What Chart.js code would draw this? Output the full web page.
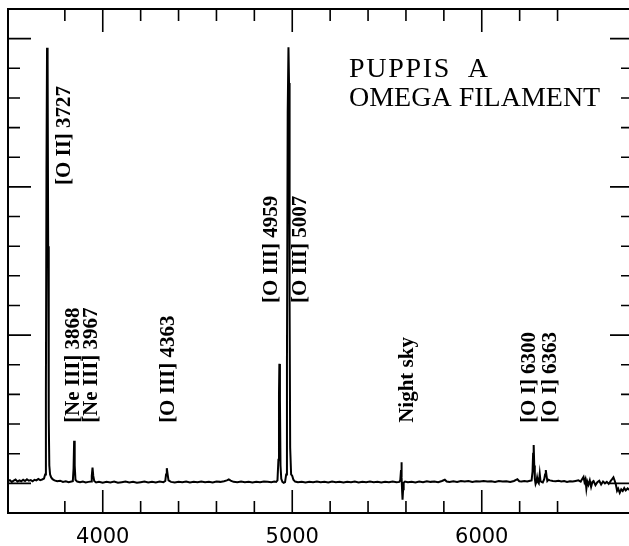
<!DOCTYPE html>
<html>
<head>
<meta charset="utf-8">
<script src="https://cdn.jsdelivr.net/npm/chart.js@4.4.1/dist/chart.umd.min.js"></script>
<style>
  html, body { margin: 0; padding: 0; overflow: hidden; background: #fff; }
  canvas { display: block; }
</style>
</head>
<body>
<canvas id="spectrum" width="629" height="546"></canvas>
<script>
// spectrum (wavelength in A, relative flux)
const wavelength = [
  3500, 3510, 3520, 3530, 3540, 3550, 3560, 3570, 3580, 3590,
  3600, 3610, 3620, 3630, 3640, 3650, 3660, 3670, 3680, 3690,
  3696, 3700, 3703, 3706, 3709, 3712, 3715, 3718, 3722, 3728,
  3735, 3745, 3760, 3775, 3790, 3805, 3820, 3835,
  3842, 3846, 3849, 3852, 3856, 3865, 3880, 3895, 3910, 3925,
  3938, 3942, 3946, 3950, 3955, 3965, 3980,
  4000, 4020, 4040, 4060, 4080, 4100, 4120, 4140, 4160, 4180,
  4200, 4220, 4240, 4260, 4280, 4300, 4320,
  4330, 4334, 4338, 4342, 4347, 4360, 4380,
  4400, 4420, 4440, 4460, 4480, 4500, 4520, 4540, 4560, 4580,
  4600, 4620, 4640, 4655, 4665, 4675, 4690, 4710, 4730, 4750,
  4770, 4790, 4810, 4830, 4850, 4870, 4890, 4905, 4915,
  4922, 4927, 4930, 4932, 4935, 4938, 4942, 4948, 4955, 4962,
  4968, 4972, 4976, 4980, 4983, 4986, 4989, 4994, 5000, 5006,
  5015, 5030, 5050, 5070, 5090, 5110, 5130, 5150, 5170, 5190,
  5210, 5230, 5250, 5270, 5290, 5310, 5330, 5350, 5370, 5390,
  5410, 5430, 5450, 5470, 5490, 5510, 5530, 5550, 5565,
  5570, 5574, 5576, 5578, 5580, 5582, 5585, 5588, 5595,
  5610, 5630, 5650, 5670, 5690, 5710, 5730, 5750, 5770, 5790,
  5805, 5815, 5830, 5850, 5870, 5890, 5910, 5930, 5950, 5970,
  5990, 6010, 6030, 6050, 6070, 6090, 6110, 6130, 6150, 6170,
  6188, 6198, 6210, 6225, 6240, 6255, 6263,
  6268, 6271, 6274, 6277, 6280, 6284, 6288, 6292, 6296, 6301,
  6306, 6310, 6315, 6322, 6330, 6334, 6338, 6342, 6346, 6352,
  6360, 6375, 6390, 6405, 6420, 6435, 6450, 6465, 6480, 6495,
  6510, 6522, 6530, 6537, 6542, 6547, 6552, 6557, 6563, 6570,
  6577, 6584, 6590, 6600, 6610, 6620, 6630, 6640, 6650, 6660,
  6670, 6680, 6688, 6695, 6702, 6708, 6714, 6720, 6728, 6736,
  6744, 6752, 6760, 6770, 6780, 6790, 6800
];
const flux = [
  0.08, 0.11, 0.05, 0.09, 0.13, 0.06, 0.10, 0.07, 0.12, 0.08,
  0.14, 0.09, 0.11, 0.07, 0.12, 0.10, 0.15, 0.11, 0.13, 0.16,
  0.30, 3.0, 10.5, 14.69, 14.3, 8.0, 2.2, 0.6, 0.30, 0.20,
  0.14, 0.10, 0.07, 0.09, 0.05, 0.07, 0.04, 0.06,
  0.07, 0.5, 1.44, 0.6, 0.12, 0.06, 0.04, 0.06, 0.03, 0.05,
  0.06, 0.25, 0.53, 0.25, 0.08, 0.03, 0.05,
  0.02, 0.05, 0.03, 0.06, 0.02, 0.04, 0.06, 0.03, 0.05, 0.02,
  0.04, 0.06, 0.03, 0.05, 0.03, 0.06, 0.04,
  0.08, 0.30, 0.51, 0.32, 0.10, 0.05, 0.03,
  0.05, 0.04, 0.06, 0.03, 0.05, 0.04, 0.06, 0.04, 0.05, 0.03,
  0.06, 0.05, 0.07, 0.10, 0.13, 0.09, 0.05, 0.04, 0.06, 0.04,
  0.05, 0.03, 0.05, 0.04, 0.06, 0.05, 0.04, 0.06, 0.05,
  0.10, 0.8, 3.0, 4.03, 2.8, 0.6, 0.15, 0.05, 0.02, 0.04,
  0.3, 4.0, 12.5, 14.71, 13.5, 6.0, 1.2, 0.30, 0.25, 0.12,
  0.06, 0.04, 0.05, 0.03, 0.05, 0.04, 0.06, 0.04, 0.05, 0.03,
  0.06, 0.04, 0.05, 0.03, 0.05, 0.04, 0.06, 0.03, 0.05, 0.04,
  0.06, 0.04, 0.05, 0.03, 0.05, 0.04, 0.06, 0.04, 0.05,
  0.10, 0.45, 0.71, 0.20, -0.30, -0.55, -0.20, 0.02, 0.06,
  0.04, 0.05, 0.03, 0.06, 0.04, 0.07, 0.05, 0.06, 0.04, 0.08,
  0.12, 0.06, 0.05, 0.07, 0.05, 0.08, 0.06, 0.08, 0.05, 0.07,
  0.06, 0.08, 0.06, 0.07, 0.05, 0.08, 0.06, 0.07, 0.05, 0.08,
  0.14, 0.07, 0.06, 0.08, 0.06, 0.09, 0.10,
  0.40, 1.00, 1.29, 0.60, 0.15, -0.02, 0.05, 0.20, 0.05, 0.00,
  0.32, 0.08, 0.05, 0.03, 0.15, 0.30, 0.45, 0.25, 0.08, 0.12,
  0.10, 0.08, 0.07, 0.09, 0.06, 0.08, 0.05, 0.07, 0.06, 0.08,
  0.10, 0.06, 0.15, 0.22, 0.05, 0.14, -0.18, 0.06, -0.05, 0.10,
  -0.12, 0.05, 0.08, -0.06, 0.04, 0.09, -0.04, 0.06, 0.00, 0.05,
  -0.02, 0.08, 0.14, 0.20, 0.08, -0.05, -0.25, -0.18, -0.32, -0.20,
  -0.26, -0.16, -0.24, -0.17, -0.22, -0.18, -0.21
];

const axisTickLabels = [4000, 5000, 6000];

const lineLabels = ['[O II] 3727', '[Ne III] 3868', '[Ne III] 3967', '[O III] 4363',
  '[O III] 4959', '[O III] 5007', 'Night sky', '[O I] 6300', '[O I] 6363'];
const labelWavelength = [3799, 3844, 3942, 4348, 4892, 5045, 5609, 6253, 6364];
const labelBase = [10.06, 2.04, 2.04, 2.04, 6.08, 6.08, 2.04, 2.04, 2.04];

const titleLines = ['PUPPIS A', 'OMEGA FILAMENT'];

// frame (right side falls off the picture), inward ticks, line ids, title
const framePlugin = {
  id: 'frame',
  afterDatasetsDraw(chart) {
    const { ctx, chartArea: a, scales: { x, y } } = chart;
    ctx.save();
    ctx.strokeStyle = '#000';
    ctx.lineWidth = 2;
    ctx.beginPath();
    ctx.moveTo(a.right + 2, a.top);
    ctx.lineTo(a.left, a.top);
    ctx.lineTo(a.left, a.bottom);
    ctx.lineTo(a.right + 2, a.bottom);
    ctx.stroke();

    ctx.lineWidth = 1.6;
    ctx.beginPath();
    x.ticks.forEach(t => {
      if (t.value % 200 !== 0 || t.value <= x.min || t.value >= x.max) return;
      const px = x.getPixelForValue(t.value);
      const len = t.value % 1000 === 0 ? 23 : 12;
      ctx.moveTo(px, a.bottom); ctx.lineTo(px, a.bottom - len);
      ctx.moveTo(px, a.top); ctx.lineTo(px, a.top + len);
    });
    y.ticks.forEach(t => {
      if (t.value <= y.min || t.value >= y.max) return;
      const py = y.getPixelForValue(t.value);
      const len = t.value % 5 === 0 ? 23 : 12;
      ctx.moveTo(a.left, py); ctx.lineTo(a.left + len, py);
      ctx.moveTo(a.right, py); ctx.lineTo(a.right - len + 4, py);
    });
    ctx.stroke();

    ctx.fillStyle = '#000';
    ctx.font = 'bold 21px "Liberation Serif", "DejaVu Serif", serif';
    ctx.textAlign = 'left';
    ctx.textBaseline = 'middle';
    lineLabels.forEach((txt, i) => {
      ctx.save();
      ctx.translate(x.getPixelForValue(labelWavelength[i]), y.getPixelForValue(labelBase[i]));
      ctx.rotate(-Math.PI / 2);
      ctx.fillText(txt, 0, 0);
      ctx.restore();
    });

    ctx.font = '28px "Liberation Serif", "DejaVu Serif", serif';
    ctx.textBaseline = 'alphabetic';
    titleLines.forEach((txt, i) => {
      ctx.letterSpacing = i === 0 ? '1.7px' : '0px';
      ctx.wordSpacing = i === 0 ? '8px' : '0px';
      ctx.fillText(txt, a.left + 341, a.top + 68 + i * 29);
    });
    ctx.restore();
  }
};

const ctx = document.getElementById('spectrum').getContext('2d');
new Chart(ctx, {
  type: 'line',
  data: {
    datasets: [{
      data: wavelength.map((w, i) => ({ x: w, y: flux[i] })),
      borderColor: '#000',
      borderWidth: 2,
      pointRadius: 0,
      tension: 0,
      fill: false
    }]
  },
  options: {
    responsive: false,
    animation: false,
    devicePixelRatio: 1,
    layout: { autoPadding: false, padding: { left: 8, top: 9, right: 0, bottom: 0 } },
    plugins: { legend: { display: false }, tooltip: { enabled: false } },
    scales: {
      x: {
        type: 'linear',
        min: 3500,
        max: 6777,
        grid: { display: false, drawTicks: false },
        border: { display: false },
        ticks: {
          stepSize: 200,
          autoSkip: false,
          maxRotation: 0,
          padding: 14,
          color: '#000',
          font: { family: '"DejaVu Sans", sans-serif', size: 21, lineHeight: 1 },
          callback: v => axisTickLabels.includes(v) ? String(v) : ''
        },
        afterFit: scale => {
          scale.paddingLeft = 0;
          scale.paddingRight = 0;
          scale.height = 33;
        }
      },
      y: {
        min: -1,
        max: 16,
        grid: { display: false, drawTicks: false },
        border: { display: false },
        ticks: { stepSize: 1, display: false }
      }
    }
  },
  plugins: [framePlugin]
});
</script>
</body>
</html>
